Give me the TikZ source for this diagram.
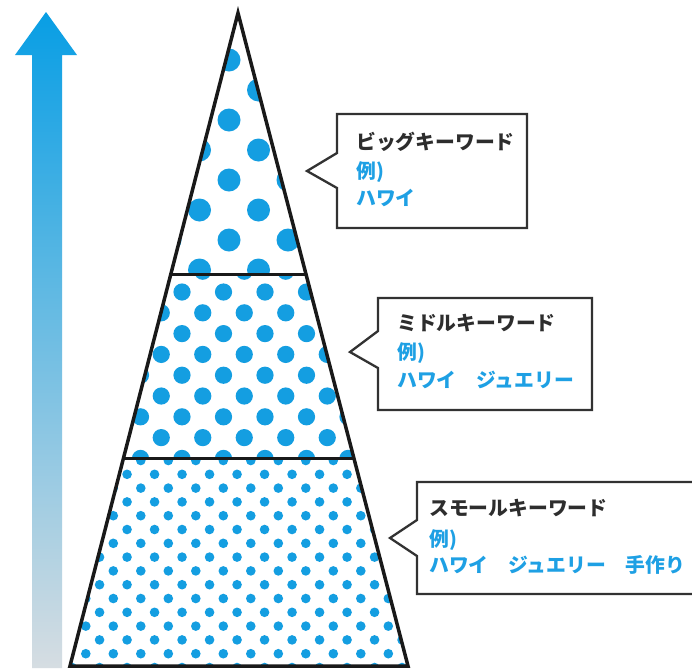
\documentclass[tikz,border=0pt]{standalone}
\usepackage{fontspec}
\newfontfamily\jp{Noto Sans CJK JP}
\usetikzlibrary{calc}
\definecolor{dotblue}{RGB}{20,158,225}
\definecolor{txtblue}{RGB}{30,160,228}
\definecolor{titlegray}{RGB}{45,45,45}
\definecolor{linegray}{RGB}{50,50,50}
\definecolor{arrtop}{RGB}{8,158,228}
\definecolor{arrmid}{RGB}{95,182,228}
\definecolor{arrbot}{RGB}{214,221,226}
\tikzset{
  callout/.style={draw=linegray, line width=2.3pt, fill=white, line join=miter},
  titletext/.style={anchor=west, inner sep=0pt, font=\jp\bfseries\fontsize{19.8}{22}\selectfont, text=titlegray},
  bluetext/.style={anchor=west, inner sep=0pt, font=\jp\bfseries\fontsize{19.8}{22}\selectfont, text=txtblue},
  dot/.style={fill=dotblue},
  divline/.style={line width=3pt, black!90},
}
\begin{document}
\begin{tikzpicture}[x=1pt,y=-1pt]
\useasboundingbox (0,0) rectangle (692,670);
\fill[white] (0,0) rectangle (692,670);

% gradient arrow
\shade[top color=arrtop, middle color=arrmid, bottom color=arrbot]
  (46,12) -- (77,55) -- (62,55) -- (62,668) -- (32,668) -- (32,55) -- (15,55) -- cycle;

% pyramid geometry
\coordinate (apex) at (238,13);
\coordinate (bl) at (70,666);
\coordinate (br) at (408,666);
\coordinate (l1) at ($(apex)!0.4012!(bl)$);
\coordinate (r1) at ($(apex)!0.4012!(br)$);
\coordinate (l2) at ($(apex)!0.6815!(bl)$);
\coordinate (r2) at ($(apex)!0.6815!(br)$);

% top dots
\begin{scope}
\clip (apex) -- (r1) -- (l1) -- cycle;
\foreach \j in {0,...,9} {
  \foreach \k in {-2,...,2} {
    \fill[dot] ({229+59*\k+29.5*mod(\j,2)}, {60+30*\j}) circle (11.5pt);
  }
}
\end{scope}

% middle dots
\begin{scope}
\clip (l1) -- (r1) -- (r2) -- (l2) -- cycle;
\foreach \j in {-1,...,9} {
  \foreach \k in {-3,...,6} {
    \fill[dot] ({182+41.5*\k+20.75*mod(\j+2,2)}, {292+20.8*\j}) circle (8.6pt);
  }
}
\end{scope}

% bottom dots
\begin{scope}
\clip (l2) -- (r2) -- (br) -- (bl) -- cycle;
\foreach \j in {-7,...,10} {
  \foreach \k in {-3,...,12} {
    \fill[dot] ({113.3+27.5*\k+13.75*mod(\j+8,2)}, {543.3+13.8*\j}) circle (4.8pt);
  }
}
\end{scope}

% pyramid outline and divisions
\draw[divline] (l1) -- (r1);
\draw[divline] (l2) -- (r2);
\draw[line width=3.5pt, black!90, line join=miter] (apex) -- (br) -- (bl) -- cycle;

% callout 1
\draw[callout] (337,153) -- (337,114) -- (527,114) -- (527,228) -- (337,228) -- (337,188) -- (307,171) -- cycle;
\node[titletext] (t1) at (356,142) {ビッグキーワード};
\node[bluetext] (e1) at (356,172) {例)};
\node[bluetext] (k1) at (356,198) {ハワイ};

% callout 2
\draw[callout] (378,331) -- (378,298) -- (592,298) -- (592,410) -- (378,410) -- (378,368) -- (350,352) -- cycle;
\node[titletext] (t2) at (397,323) {ミドルキーワード};
\node[bluetext] (e2) at (397,353) {例)};
\node[bluetext] (k2) at (397,380) {ハワイ　ジュエリー};

% callout 3
\draw[callout] (417,520) -- (417,482) -- (700,482) -- (700,594) -- (417,594) -- (417,556) -- (390,538) -- cycle;
\node[titletext] (t3) at (429,508) {スモールキーワード};
\node[bluetext] (e3) at (429,540) {例)};
\node[bluetext] (k3) at (429,565) {ハワイ　ジュエリー　手作り};
\end{tikzpicture}
\end{document}
